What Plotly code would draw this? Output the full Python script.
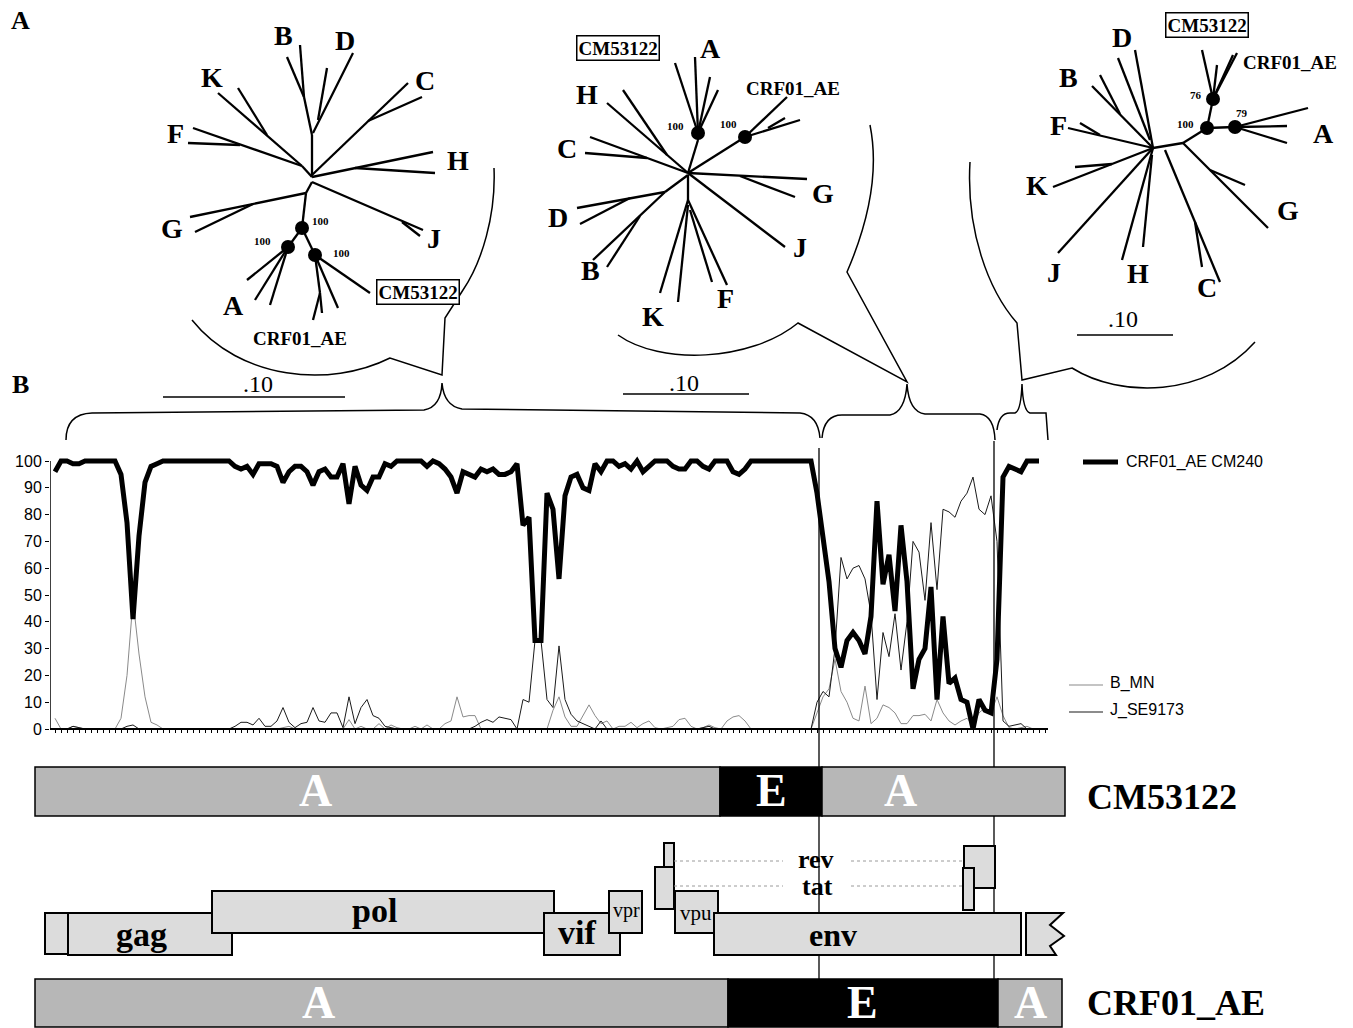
import plotly.graph_objects as go

W, H = 1353, 1028

# ---------------- Bootscan data (one value per sliding window) ----------------
crf01_ae_cm240 = [
    96, 100, 100, 99, 99, 100, 100, 100, 100, 100,
    100, 95, 77, 41, 72, 92, 98, 99, 100, 100,
    100, 100, 100, 100, 100, 100, 100, 100, 100, 100,
    98, 97, 98, 95, 99, 99, 99, 98, 92, 96,
    98, 98, 96, 91, 96, 97, 94, 94, 99, 84,
    98, 91, 89, 94, 94, 99, 98, 100, 100, 100,
    100, 100, 98, 100, 99, 97, 94, 88, 96, 95,
    94, 97, 96, 97, 95, 95, 96, 99, 76, 79,
    33, 33, 88, 82, 56, 87, 94, 95, 90, 89,
    99, 96, 100, 100, 98, 99, 97, 100, 96, 98,
    100, 100, 100, 98, 97, 97, 100, 100, 98, 97,
    100, 100, 100, 96, 95, 97, 100, 100, 100, 100,
    100, 100, 100, 100, 100, 100, 100, 88, 72, 55,
    30, 23, 33, 36, 33, 28, 42, 85, 54, 65,
    44, 76, 55, 15, 26, 30, 53, 11, 42, 17,
    19, 11, 10, 0, 11, 7, 6, 26, 94, 98,
    97, 96, 100, 100, 100,
]
b_mn = [
    4, 0, 0, 1, 0.5, 0, 0, 0, 0, 0,
    0, 4, 20, 48, 28, 12, 2.5, 1.5, 0, 0,
    0, 0, 0, 0, 0, 0, 0, 0, 0, 0,
    0, 0, 0, 0, 0, 0, 0, 0, 0.5, 1,
    0, 0, 0, 0, 0, 0, 0, 0, 0, 3.5,
    0, 1, 0, 0, 2, 0, 1.5, 0.5, 0, 0,
    1, 0, 1.5, 0, 0, 2, 3, 12, 4.5, 5,
    5, 0, 0, 0, 0, 0, 0, 0, 0, 0,
    0, 0, 0, 7, 12, 4.5, 1, 1, 5, 9,
    5, 2, 3, 0, 1, 1, 2.5, 0.5, 2, 3,
    0.5, 0, 0.5, 1, 3.5, 4, 1, 0, 0.5, 1.5,
    0.5, 0, 3, 4.5, 5, 3, 0, 0, 0, 0,
    0, 0, 0, 0, 0, 0, 0, 6, 12, 15,
    26, 14, 10, 4, 3, 16, 2, 4, 9, 8,
    6, 2, 2, 5, 5, 5.5, 3, 11, 6, 3,
    1.5, 3, 4, 1.5, 6, 8, 6, 12, 5, 0.5,
    0, 0.5, 1, 0, 0,
]
j_se9173 = [
    0, 0, 0, 1, 0.5, 0, 0, 0, 0, 0,
    0, 0, 1, 1.5, 0, 0, 0, 0, 0, 0,
    0, 0, 0, 0, 0, 0, 0, 0, 0, 0,
    1, 2.5, 2.5, 1.5, 4, 1, 1, 3, 8, 2.5,
    0.5, 2, 2.5, 8, 3, 2.5, 6, 6, 0.5, 12,
    2, 8, 11, 5, 4, 1, 0.5, 0, 0, 0,
    0, 0, 0, 0, 0, 0, 0, 0, 0, 0,
    1, 2.5, 3.5, 2.5, 4.5, 4, 3.5, 0, 11, 10,
    33, 33, 11, 8, 31, 11, 5.5, 3, 2, 1,
    0, 3, 0, 0, 0, 0, 0, 0, 0, 0,
    0, 0, 0, 0, 0, 0, 0, 0, 0.5, 1,
    0, 0, 0, 0, 0, 0, 0, 0, 0, 0,
    0, 0, 0, 0, 0, 0, 0, 10, 14, 12,
    30, 64, 56, 60, 61, 56, 43, 11, 36, 27,
    43, 22, 40, 70, 66, 48, 77, 52, 82, 81,
    79, 85, 88, 94, 82, 80, 87, 70, 3, 1,
    1.5, 2, 0, 0, 0,
]
series_names = ["CRF01_AE CM240", "B_MN", "J_SE9173"]
y_ticks = [0, 10, 20, 30, 40, 50, 60, 70, 80, 90, 100]
windows = list(range(len(crf01_ae_cm240)))

# ---------------- Genome maps ----------------
cm53122_segments = [("A", 35, 720, 315), ("E", 720, 822, 771), ("A", 822, 1065, 900)]
crf01_segments = [("A", 35, 728, 318), ("E", 728, 998, 862), ("A", 998, 1062, 1030)]
genes = [  # name, start, end, top, bottom, label
    ("LTR5", 45, 69, 913, 954, ""),
    ("gag", 68, 232, 913, 955, "gag"),
    ("pol", 212, 554, 891, 933, "pol"),
    ("vif", 544, 620, 913, 955, "vif"),
    ("vpr", 609, 642, 891, 933, "vpr"),
    ("tat1", 655, 674, 867, 909, ""),
    ("rev1", 664, 674, 843, 867, ""),
    ("vpu", 675, 718, 891, 933, "vpu"),
    ("env", 714, 1021, 913, 955, "env"),
    ("rev2", 964, 995, 846, 888, ""),
    ("tat2", 963, 974, 868, 910, ""),
]

# ---------------- Trees (branch end points in figure pixels) ----------------
tree1_branches = [
    (312, 177, 312, 135), (312, 135, 304, 97), (304, 97, 300, 45), (304, 97, 287, 57),
    (313, 133, 353, 53), (318, 120, 327, 68),
    (312, 177, 302, 166),
    (218, 93, 302, 166), (267, 135, 238, 88),
    (193, 128, 302, 166), (240, 145, 188, 143),
    (312, 175, 408, 83), (368, 121, 422, 97),
    (312, 177, 433, 152), (355, 168, 435, 173),
    (312, 182, 423, 230), (402, 222, 420, 236),
    (312, 182, 306, 193), (306, 193, 302, 228),
    (306, 193, 190, 217), (253, 204, 195, 232),
    (302, 228, 288, 247), (302, 228, 315, 255),
    (288, 247, 247, 280), (288, 247, 255, 300), (288, 247, 270, 305),
    (315, 255, 370, 293),
    (315, 255, 320, 293), (320, 293, 313, 320), (320, 293, 322, 313), (315, 255, 338, 308),
]
tree1_nodes = [(302, 228, "100", 320, 221), (288, 247, "100", 262, 241), (315, 255, "100", 341, 253)]
tree1_leaves = [("B", 283, 35), ("D", 345, 40), ("K", 212, 77), ("C", 425, 80), ("F", 175, 133),
                ("H", 458, 160), ("G", 172, 228), ("J", 434, 238), ("A", 233, 305)]
tree1_strains = [("CRF01_AE", 300, 338, False), ("CM53122", 418, 292, True)]

tree2_branches = [
    (688, 173, 698, 140), (698, 140, 698, 133),
    (698, 133, 675, 63), (698, 133, 695, 57), (698, 133, 710, 77), (698, 133, 718, 90),
    (688, 173, 745, 137), (745, 137, 787, 97), (745, 137, 800, 120), (768, 128, 785, 118),
    (688, 173, 607, 103), (667, 155, 623, 90),
    (688, 173, 590, 137), (647, 158, 585, 153),
    (688, 173, 807, 179), (740, 176, 795, 197),
    (688, 173, 785, 247),
    (688, 175, 665, 192), (665, 192, 577, 208), (630, 198, 580, 224),
    (665, 192, 593, 260), (640, 216, 607, 267),
    (688, 175, 688, 200), (688, 200, 660, 293), (688, 205, 678, 302),
    (688, 200, 727, 285), (690, 210, 712, 282),
]
tree2_nodes = [(698, 133, "100", 675, 126), (745, 137, "100", 728, 124)]
tree2_leaves = [("A", 710, 48), ("H", 587, 94), ("C", 567, 148), ("G", 823, 193), ("J", 800, 247),
                ("D", 558, 217), ("B", 590, 270), ("K", 653, 316), ("F", 725, 298)]
tree2_strains = [("CRF01_AE", 793, 88, False), ("CM53122", 618, 48, True)]

tree3_branches = [
    (1153, 148, 1183, 143), (1183, 143, 1207, 128),
    (1207, 128, 1213, 99), (1207, 128, 1235, 127),
    (1213, 99, 1202, 50), (1213, 99, 1217, 65), (1213, 99, 1233, 55), (1213, 99, 1237, 53),
    (1235, 127, 1308, 108), (1235, 127, 1287, 126), (1235, 127, 1287, 143),
    (1183, 143, 1268, 228), (1210, 170, 1245, 185),
    (1165, 150, 1220, 282), (1195, 222, 1202, 267),
    (1153, 148, 1122, 260), (1152, 155, 1143, 247),
    (1153, 148, 1058, 253),
    (1153, 148, 1053, 187), (1112, 164, 1075, 167),
    (1153, 148, 1068, 128), (1100, 135, 1080, 123),
    (1153, 148, 1092, 86), (1120, 114, 1100, 75),
    (1153, 148, 1135, 50), (1150, 140, 1118, 58),
]
tree3_nodes = [(1213, 99, "76", 1196, 95), (1207, 128, "100", 1185, 124), (1235, 127, "79", 1242, 113)]
tree3_leaves = [("D", 1122, 37), ("B", 1068, 77), ("F", 1058, 125), ("K", 1037, 185), ("J", 1054, 272),
                ("H", 1138, 273), ("C", 1207, 287), ("G", 1288, 210), ("A", 1323, 133)]
tree3_strains = [("CRF01_AE", 1290, 62, False), ("CM53122", 1207, 25, True)]

scale_bars = [(163, 345, 397, 258, 384), (623, 749, 394, 684, 383), (1077, 1173, 335, 1123, 319)]

# ---------------- layout helpers ----------------
X0_PX, STEP_PX = 55, 6.0
AXIS_L, AXIS_R = 50, 1048
Y0_PX, Y100_PX = 729, 461
PPU = (Y0_PX - Y100_PX) / 100.0
PAD = 3
SERIF = "Liberation Serif"
SANS = "Liberation Sans"

fig = go.Figure()

# thin series then thick
fig.add_trace(go.Scatter(x=windows, y=b_mn, mode="lines", name=series_names[1],
                         line=dict(color="#8a8a8a", width=1), showlegend=False, hoverinfo="skip"))
fig.add_trace(go.Scatter(x=windows, y=j_se9173, mode="lines", name=series_names[2],
                         line=dict(color="#1a1a1a", width=1), showlegend=False, hoverinfo="skip"))
fig.add_trace(go.Scatter(x=windows, y=crf01_ae_cm240, mode="lines", name=series_names[0],
                         line=dict(color="black", width=5), showlegend=False, hoverinfo="skip"))

# trees on overlay pixel axes
for branches in (tree1_branches, tree2_branches, tree3_branches):
    xs, ys = [], []
    for x0, y0, x1, y1 in branches:
        xs += [x0, x1, None]
        ys += [y0, y1, None]
    fig.add_trace(go.Scatter(x=xs, y=ys, xaxis="x2", yaxis="y2", mode="lines",
                             line=dict(color="black", width=2.3), showlegend=False, hoverinfo="skip"))
nodes = tree1_nodes + tree2_nodes + tree3_nodes
fig.add_trace(go.Scatter(x=[n[0] for n in nodes], y=[n[1] for n in nodes], xaxis="x2", yaxis="y2",
                         mode="markers", marker=dict(color="black", size=14), showlegend=False,
                         hoverinfo="skip"))

shapes = []
annotations = []


def ann(text, x, y, size, bold=False, color="black", family=SERIF, xanchor="center", **kw):
    t = f"<b>{text}</b>" if bold else text
    annotations.append(dict(text=t, x=x, y=y, xref="x2", yref="y2", showarrow=False,
                            xanchor=xanchor, yanchor="middle",
                            font=dict(family=family, size=size, color=color), **kw))


def line(x0, y0, x1, y1, width=1.5, color="black", dash=None):
    d = dict(type="line", x0=x0, y0=y0, x1=x1, y1=y1, xref="x2", yref="y2",
             line=dict(color=color, width=width))
    if dash:
        d["line"]["dash"] = dash
    shapes.append(d)


def path(p, width=1.5):
    shapes.append(dict(type="path", path=p, xref="x2", yref="y2",
                       line=dict(color="black", width=width)))


for nx, ny, lab, lx, ly in nodes:
    ann(lab, lx, ly, 11, bold=True)
for leaves in (tree1_leaves, tree2_leaves, tree3_leaves):
    for lab, lx, ly in leaves:
        ann(lab, lx, ly, 28, bold=True)
for strains in (tree1_strains, tree2_strains, tree3_strains):
    for lab, lx, ly, boxed in strains:
        if boxed:
            ann(lab, lx, ly, 19, bold=True, bordercolor="black", borderwidth=1.5, borderpad=1,
                bgcolor="white")
        else:
            ann(lab, lx, ly, 19, bold=True)

for x0, x1, yb, lx, ly in scale_bars:
    line(x0, yb, x1, yb, width=1.5)
    ann(".10", lx, ly, 24)

ann("A", 20, 20, 26, bold=True)
ann("B", 20, 384, 26, bold=True)

# speech-balloon outlines linking trees to genome regions
path("M 192,320 C 240,380 330,388 390,358 L 442,375 L 445,318 L 463,290 C 482,262 496,215 494,168")
path("M 618,335 C 660,365 750,362 798,323 L 907,382 L 847,272 C 866,228 880,175 870,125")
path("M 970,162 C 966,230 988,290 1017,323 L 1022,380 L 1072,368 C 1120,398 1205,398 1255,342")

# curly braces above the bootscan
path("M 66,440 Q 66,414 92,413 L 424,410 Q 441,407 442,383 Q 444,406 462,409 L 800,413 Q 818,415 820,438")
path("M 822,438 Q 824,415 842,415 L 890,415 Q 905,412 907,384 Q 909,412 925,414 L 980,414 Q 994,416 995,440")
path("M 997,430 Q 999,413 1010,413 L 1015,413 Q 1021,411 1022,384 Q 1023,411 1030,413 L 1046,413 L 1048,440")

# recombination breakpoint lines
line(819, 448, 819, 979, width=1.3)
line(994, 441, 994, 979, width=1.3)

# bootscan y axis line (from 0 to 100 only)
shapes.append(dict(type="line", xref="x", yref="y", x0=(AXIS_L - X0_PX) / STEP_PX, x1=(AXIS_L - X0_PX) / STEP_PX,
                   y0=0, y1=100, line=dict(color="black", width=1.5)))

# legend
line(1083, 462, 1118, 462, width=5)
ann(series_names[0], 1124, 462, 16, family=SANS, xanchor="left")
line(1069, 685, 1103, 685, width=1.2, color="#8a8a8a")
ann(series_names[1], 1108, 683, 16, family=SANS, xanchor="left")
line(1069, 712, 1103, 712, width=1.2, color="#1a1a1a")
ann(series_names[2], 1108, 710, 16, family=SANS, xanchor="left")

BAR_GRAY = "#b7b7b7"
GENE_GRAY = "#dcdcdc"


def genome_bar(segments, top, bottom, label, label_y):
    for name, x0, x1, lx in segments:
        fill = "black" if name == "E" else BAR_GRAY
        shapes.append(dict(type="rect", x0=x0, x1=x1, y0=top, y1=bottom, xref="x2", yref="y2",
                           fillcolor=fill, line=dict(color="black", width=1.5)))
        ann(name, lx, (top + bottom) / 2 - 1, 46, bold=True, color="white")
    ann(label, 1085, label_y, 36, bold=True, xanchor="left")


genome_bar(cm53122_segments, 767, 816, "CM53122", 797)

# gene boxes
for name, x0, x1, top, bottom, lab in genes:
    shapes.append(dict(type="rect", x0=x0, x1=x1, y0=top, y1=bottom, xref="x2", yref="y2",
                       fillcolor=GENE_GRAY, line=dict(color="black", width=2)))
# 3' LTR piece with a torn edge
shapes.append(dict(type="path", xref="x2", yref="y2", fillcolor=GENE_GRAY,
                   line=dict(color="black", width=2),
                   path="M 1026,913 L 1063,913 L 1050,925 L 1064,936 L 1050,946 L 1056,955 L 1026,955 Z"))
# splice connectors of rev / tat
for yy in (861, 886):
    line(674, yy, 783, yy, width=1, color="#9a9a9a", dash="dot")
    line(851, yy, 963, yy, width=1, color="#9a9a9a", dash="dot")
ann("rev", 816, 859, 26, bold=True)
ann("tat", 817, 886, 26, bold=True)
gene_label_pos = {"gag": (141, 934, 34), "pol": (374, 910, 34), "vif": (577, 932, 34),
                  "vpr": (626, 910, 20), "vpu": (696, 913, 21), "env": (833, 935, 32)}
for name, x0, x1, top, bottom, lab in genes:
    if lab:
        gx, gy, gs = gene_label_pos[lab]
        ann(lab, gx, gy, gs, bold=(gs > 25))

genome_bar(crf01_segments, 979, 1027, "CRF01_AE", 1003)

fig.update_layout(
    width=W, height=H, margin=dict(l=0, r=0, t=0, b=0), autosize=False,
    paper_bgcolor="white", plot_bgcolor="rgba(0,0,0,0)",
    shapes=shapes, annotations=annotations, showlegend=False,
    xaxis=dict(domain=[AXIS_L / W, AXIS_R / W],
               range=[(AXIS_L - X0_PX) / STEP_PX, (AXIS_R - X0_PX) / STEP_PX],
               anchor="free", position=(H - Y0_PX) / H,
               showline=True, linecolor="black", linewidth=2,
               ticks="outside", ticklen=3, tickwidth=1, tickcolor="black",
               tick0=0, dtick=1, showticklabels=False, showgrid=False, zeroline=False,
               fixedrange=True),
    yaxis=dict(domain=[(H - (Y0_PX + PAD * PPU)) / H, (H - (Y100_PX - PAD * PPU)) / H],
               range=[-PAD, 100 + PAD], anchor="x",
               tickvals=y_ticks, ticktext=[str(v) for v in y_ticks],
               ticks="outside", ticklen=4, tickcolor="black", showline=False,
               showgrid=False, zeroline=False,
               tickfont=dict(family=SANS, size=16, color="black"), fixedrange=True),
    xaxis2=dict(domain=[0, 1], range=[0, W], anchor="y2", visible=False, fixedrange=True),
    yaxis2=dict(domain=[0, 1], range=[H, 0], anchor="x2", visible=False, fixedrange=True),
)

fig.write_html("out.html")
